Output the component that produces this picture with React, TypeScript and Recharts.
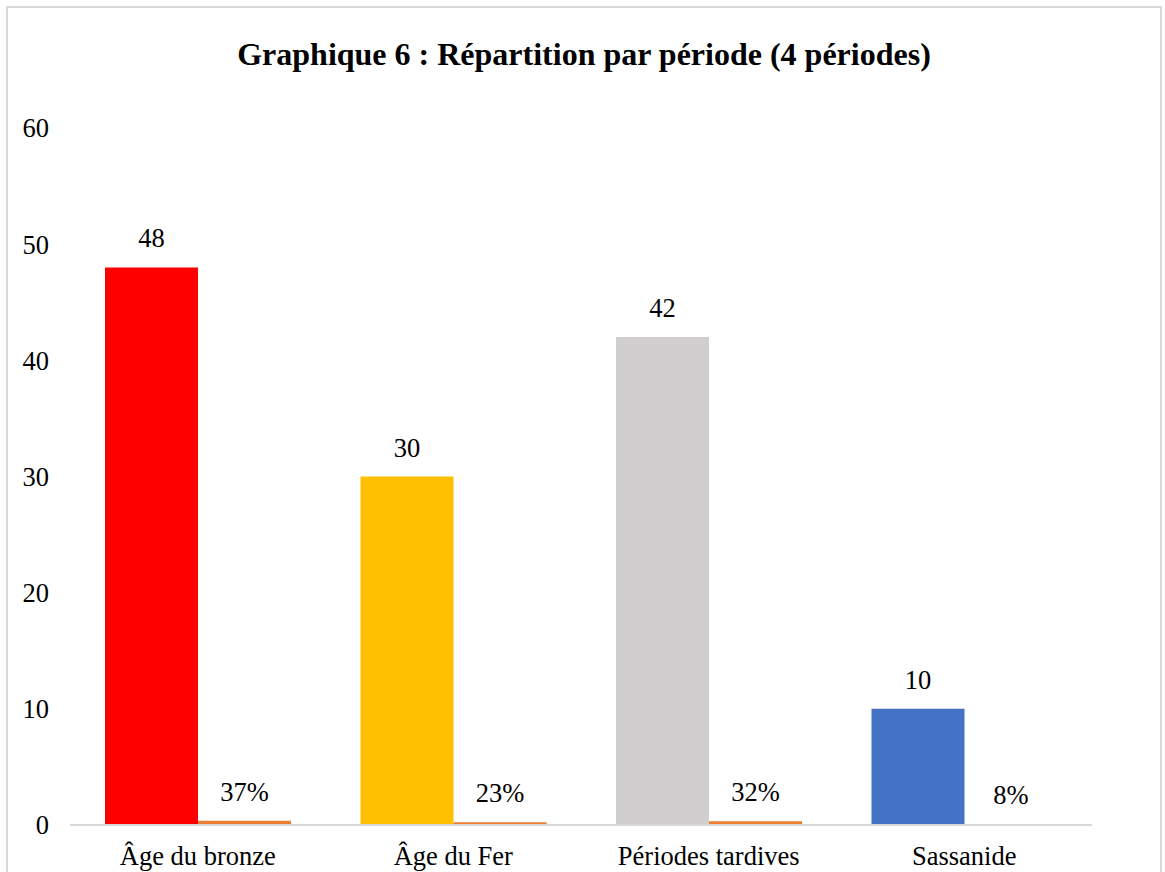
import { BarChart, Bar, XAxis, YAxis, LabelList, Cell } from "recharts";

// catégories et valeurs
const PERIODES = ["Âge du bronze", "Âge du Fer", "Périodes tardives", "Sassanide"];
const EFFECTIFS = [48, 30, 42, 10];
const POURCENTAGES = [0.37, 0.23, 0.32, 0.08];
const COULEURS = ["#FF0000", "#FFC000", "#D0CECE", "#4472C4"];
const Y_TICKS = [0, 10, 20, 30, 40, 50, 60];

const FONT = "Liberation Serif";

const data = PERIODES.map((p, i) => ({
  periode: p,
  effectif: EFFECTIFS[i],
  pourcentage: POURCENTAGES[i],
}));

const textStyle = { fontSize: 26.5, fill: "#000", fontFamily: FONT };

export default function App() {
  return (
    <div
      style={{
        position: "absolute",
        left: 6,
        top: 6,
        width: 1156,
        height: 900,
        border: "2px solid #d9d9d9",
        boxSizing: "border-box",
        background: "#fff",
        fontFamily: FONT,
      }}
    >
      <div
        style={{
          position: "absolute",
          top: 28,
          left: 0,
          width: "100%",
          textAlign: "center",
          fontWeight: "bold",
          fontSize: 32,
          color: "#000",
        }}
      >
        Graphique 6 : Répartition par période (4 périodes)
      </div>
      <div style={{ position: "absolute", left: 0, top: 1 }}>
        <BarChart
          width={1150}
          height={890}
          data={data}
          margin={{ top: 119, right: 66, left: 12, bottom: 34 }}
          barCategoryGap={35}
          barGap={0}
        >
          <XAxis
            dataKey="periode"
            height={40}
            tickLine={false}
            tickSize={0}
            tickMargin={21}
            axisLine={{ stroke: "#d9d9d9", strokeWidth: 2 }}
            tick={textStyle}
          />
          <YAxis
            width={50}
            domain={[0, 60]}
            ticks={Y_TICKS}
            axisLine={false}
            tickLine={false}
            tickSize={0}
            tickMargin={21}
            tick={textStyle}
          />
          <Bar dataKey="effectif" isAnimationActive={false}>
            {data.map((d, i) => (
              <Cell key={d.periode} fill={COULEURS[i]} />
            ))}
            <LabelList dataKey="effectif" position="top" offset={20} {...textStyle} />
          </Bar>
          <Bar dataKey="pourcentage" fill="#ED7D31" isAnimationActive={false}>
            <LabelList
              dataKey="pourcentage"
              position="top"
              offset={20}
              formatter={(v: number) => `${Math.round(v * 100)}%`}
              {...textStyle}
            />
          </Bar>
        </BarChart>
      </div>
    </div>
  );
}
